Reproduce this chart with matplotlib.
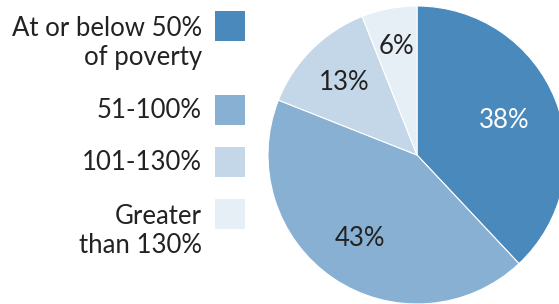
import numpy as np
import matplotlib
matplotlib.use("Agg")
from matplotlib import pyplot as plt
from matplotlib.patches import Rectangle

plt.rcParams['font.family'] = ['Lato', 'DejaVu Sans']

labels = ['At or below 50%\nof poverty', '51-100%', '101-130%', 'Greater\nthan 130%']
shares = [38, 43, 13, 6]
colors = ['#4a89bc', '#87b0d3', '#c3d7e8', '#e6eef6']
pct_colors = ['white', '#222222', '#222222', '#222222']
pct_dist = [0.63, 0.68, 0.69, 0.74]

W, H = 559, 304
fig = plt.figure(figsize=(W / 100, H / 100), dpi=100)
ax = fig.add_axes([0, 0, 1, 1])

cx, cy, r = 417, H - 155, 149
wedges, _ = ax.pie(shares, colors=colors, startangle=90, counterclock=False,
                   center=(cx, cy), radius=r, frame=True,
                   wedgeprops=dict(edgecolor='white', linewidth=0.8))
ax.set_xlim(0, W)
ax.set_ylim(0, H)
ax.set_aspect('equal')
ax.axis('off')

for w, s, c, d in zip(wedges, shares, pct_colors, pct_dist):
    mid = np.deg2rad((w.theta1 + w.theta2) / 2)
    ax.text(cx + d * r * np.cos(mid), cy + d * r * np.sin(mid), f'{s}%',
            ha='center', va='center', fontsize=18.5, color=c)

# legend
box_top = [11, 95, 147, 199]
for lab, col, top in zip(labels, colors, box_top):
    ax.add_patch(Rectangle((215, H - top - 30), 30, 30, color=col, lw=0))
    ax.text(202, H - top - 15 + (0 if '\n' not in lab else -17), lab,
            ha='right', va='center', fontsize=18.5, color='#222222',
            linespacing=1.2)

fig.savefig('out.png', dpi=100)
